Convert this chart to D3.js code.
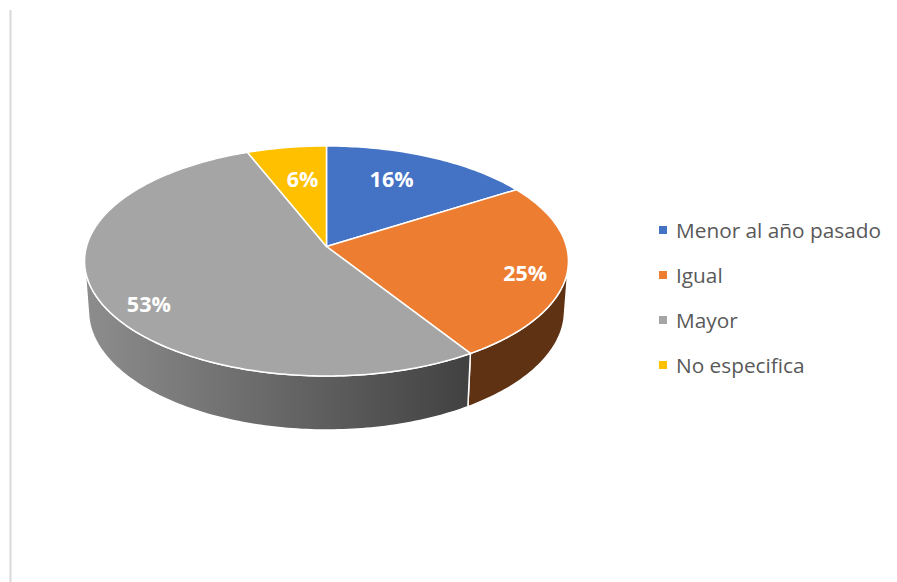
<!DOCTYPE html>
<html>
<head>
<meta charset="utf-8">
<script src="https://cdn.jsdelivr.net/npm/d3@7/dist/d3.min.js"></script>
<style>
  html, body { margin: 0; padding: 0; background: #ffffff; }
  svg { display: block; }
</style>
</head>
<body>
<svg id="chart" width="897" height="582"></svg>
<script>
// Survey answers: comparison with last year
const categories = ["Menor al año pasado", "Igual", "Mayor", "No especifica"];
const values = [16, 25, 53, 6];
const valueLabels = ["16%", "25%", "53%", "6%"];
const colors = ["#4472C4", "#ED7D31", "#A5A5A5", "#FFC000"];

const W = 897, H = 582;
const svg = d3.select("#chart");

// 3D view of the pie: unit-radius disc seen from above with perspective
const view = {
  cx: 326.5, cy: 246.5,   // screen position of the disc centre
  k: 240,                 // pixels per unit radius
  elev: Math.asin(0.4716),// elevation of the camera
  dist: 7,                // camera distance (in radii)
  depth: 0.237            // thickness of the disc
};
const sA = Math.sin(view.elev), cA = Math.cos(view.elev);

// world (x right, y up, z toward viewer) -> screen
function project(x, y, z) {
  const u = y * cA - z * sA;          // screen-up component
  const d = y * sA + z * cA;          // toward the camera
  const f = view.dist / (view.dist - d);
  return [view.cx + view.k * x * f, view.cy - view.k * u * f];
}
// angle measured clockwise from 12 o'clock on the disc
function rim(theta, r, y) {
  return project(r * Math.sin(theta), y, -r * Math.cos(theta));
}

// slice angles through d3.pie, starting at 12 o'clock, clockwise
const pie = d3.pie().sort(null).value(d => d.v);
const arcs = pie(values.map((v, i) => ({ v, i })));

const line = d3.line();

function arcPoints(a0, a1, r, y) {
  const n = Math.max(2, Math.ceil(Math.abs(a1 - a0) / (Math.PI / 180)));
  return d3.range(n + 1).map(j => rim(a0 + (a1 - a0) * j / n, r, y));
}

// shading for the sides
const defs = svg.append("defs");
function shade(hex, f) {
  const c = d3.rgb(hex);
  return d3.rgb(c.r * f, c.g * f, c.b * f).formatHex();
}
const left = project(-1, 0, 0)[0], right = project(1, 0, 0)[0];
colors.forEach((c, i) => {
  const g = defs.append("linearGradient")
    .attr("id", "side" + i)
    .attr("gradientUnits", "userSpaceOnUse")
    .attr("x1", left - 6).attr("x2", left + (right - left) * 0.79)
    .attr("y1", 0).attr("y2", 0);
  g.append("stop").attr("offset", 0).attr("stop-color", shade(c, 0.86));
  g.append("stop").attr("offset", 1).attr("stop-color", shade(c, 0.4));
});

// chart area left border
svg.append("line")
  .attr("x1", 10.5).attr("x2", 10.5)
  .attr("y1", 10).attr("y2", H)
  .attr("stroke", "#d9d9d9").attr("stroke-width", 2);

// visible part of the outer wall (tangent lines from the camera)
const camZ = view.dist * cA;
const vis0 = Math.acos(-1 / camZ), vis1 = 2 * Math.PI - vis0;

const gPie = svg.append("g");

arcs.forEach(a => {
  const s0 = Math.max(a.startAngle, vis0), s1 = Math.min(a.endAngle, vis1);
  if (s1 <= s0) return;
  const top = arcPoints(s0, s1, 1, 0);
  const bottom = arcPoints(s0, s1, 1, -view.depth).reverse();
  gPie.append("path")
    .attr("d", line(top.concat(bottom)) + "Z")
    .attr("fill", `url(#side${a.data.i})`)
    .attr("stroke", "#ffffff")
    .attr("stroke-width", 1.5)
    .attr("stroke-linejoin", "round");
});

// top faces
arcs.forEach(a => {
  const pts = [project(0, 0, 0)].concat(arcPoints(a.startAngle, a.endAngle, 1, 0));
  gPie.append("path")
    .attr("d", line(pts) + "Z")
    .attr("fill", colors[a.data.i])
    .attr("stroke", "#ffffff")
    .attr("stroke-width", 1.5)
    .attr("stroke-linejoin", "round");
});

// value labels on the top face
const labelRadius = [0.71, 0.835, 0.84, 0.655];
const labelTurn = [-4.4, 3, -7, 1.3];   // degrees
arcs.forEach(a => {
  const i = a.data.i;
  const mid = (a.startAngle + a.endAngle) / 2 + labelTurn[i] * Math.PI / 180;
  const p = rim(mid, labelRadius[i], 0);
  gPie.append("text")
    .attr("x", p[0]).attr("y", p[1])
    .attr("text-anchor", "middle")
    .attr("dominant-baseline", "central")
    .attr("font-family", "'Open Sans', sans-serif")
    .attr("font-weight", 700)
    .attr("font-size", 21.5)
    .attr("fill", "#ffffff")
    .text(valueLabels[i]);
});

// legend
const legendY = d3.scalePoint().domain(categories).range([230, 365]);
const legend = svg.append("g");
categories.forEach((c, i) => {
  const y = legendY(c);
  legend.append("rect")
    .attr("x", 659).attr("y", y - 4)
    .attr("width", 8).attr("height", 8)
    .attr("fill", colors[i]);
  legend.append("text")
    .attr("x", 676).attr("y", y)
    .attr("dominant-baseline", "central")
    .attr("font-family", "'Open Sans', sans-serif")
    .attr("font-size", 20.8)
    .attr("fill", "#595959")
    .text(c);
});
</script>
</body>
</html>
